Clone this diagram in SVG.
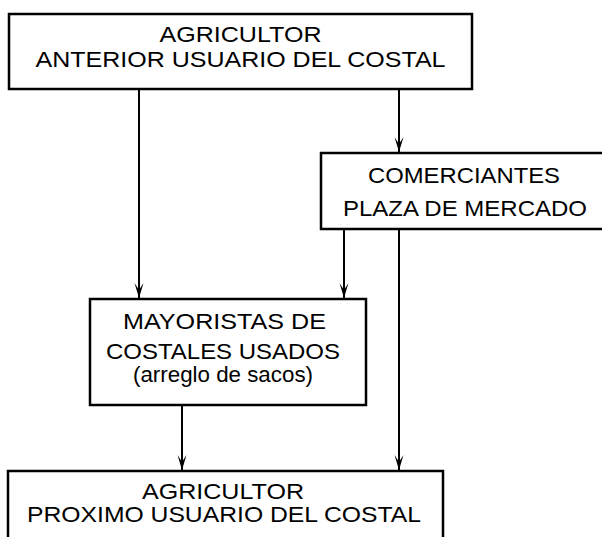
<svg xmlns="http://www.w3.org/2000/svg" width="602" height="537" viewBox="0 0 602 537">
<style>
.box{fill:#fff;stroke:#000;stroke-width:2.5}
.lbl{font-family:"Liberation Sans",Arial,sans-serif;font-size:22px;fill:#000;text-anchor:middle}
.edge{stroke:#000;stroke-width:2;fill:none}
</style>
<defs>
<marker id="ah" markerUnits="userSpaceOnUse" markerWidth="18" markerHeight="12" viewBox="-16 -6 18 12" refX="0" refY="0" orient="auto">
<path d="M-15,-4.5 L0,0 L-15,4.5 L-8,0 Z" fill="#000"/>
</marker>
</defs>
<rect width="602" height="537" fill="#fff"/>
<g id="connectors">
<line class="edge" x1="139" y1="89" x2="139" y2="298" marker-end="url(#ah)"/>
<line class="edge" x1="399" y1="89" x2="399" y2="152" marker-end="url(#ah)"/>
<line class="edge" x1="344" y1="229" x2="344" y2="298" marker-end="url(#ah)"/>
<line class="edge" x1="399" y1="229" x2="399" y2="470" marker-end="url(#ah)"/>
<line class="edge" x1="182" y1="405" x2="182" y2="470" marker-end="url(#ah)"/>
</g>
<g id="agricultor-anterior">
<rect class="box" x="9" y="14" width="463" height="75"/>
<text class="lbl" x="240.5" y="42" textLength="162" lengthAdjust="spacingAndGlyphs">AGRICULTOR</text>
<text class="lbl" x="240.5" y="67" textLength="410" lengthAdjust="spacingAndGlyphs">ANTERIOR USUARIO DEL COSTAL</text>
</g>
<g id="comerciantes">
<rect class="box" x="321" y="153" width="300" height="76"/>
<text class="lbl" x="464" y="183" textLength="192" lengthAdjust="spacingAndGlyphs">COMERCIANTES</text>
<text class="lbl" x="465" y="216" textLength="244" lengthAdjust="spacingAndGlyphs">PLAZA DE MERCADO</text>
</g>
<g id="mayoristas">
<rect class="box" x="90" y="299" width="276" height="106"/>
<text class="lbl" x="224.5" y="329" textLength="203" lengthAdjust="spacingAndGlyphs">MAYORISTAS DE</text>
<text class="lbl" x="223" y="359" textLength="234" lengthAdjust="spacingAndGlyphs">COSTALES USADOS</text>
<text class="lbl" x="223" y="382" textLength="180" lengthAdjust="spacingAndGlyphs">(arreglo de sacos)</text>
</g>
<g id="agricultor-proximo">
<rect class="box" x="8" y="471" width="435" height="90"/>
<text class="lbl" x="223" y="499" textLength="162" lengthAdjust="spacingAndGlyphs">AGRICULTOR</text>
<text class="lbl" x="224" y="522" textLength="394" lengthAdjust="spacingAndGlyphs">PROXIMO USUARIO DEL COSTAL</text>
</g>
</svg>
